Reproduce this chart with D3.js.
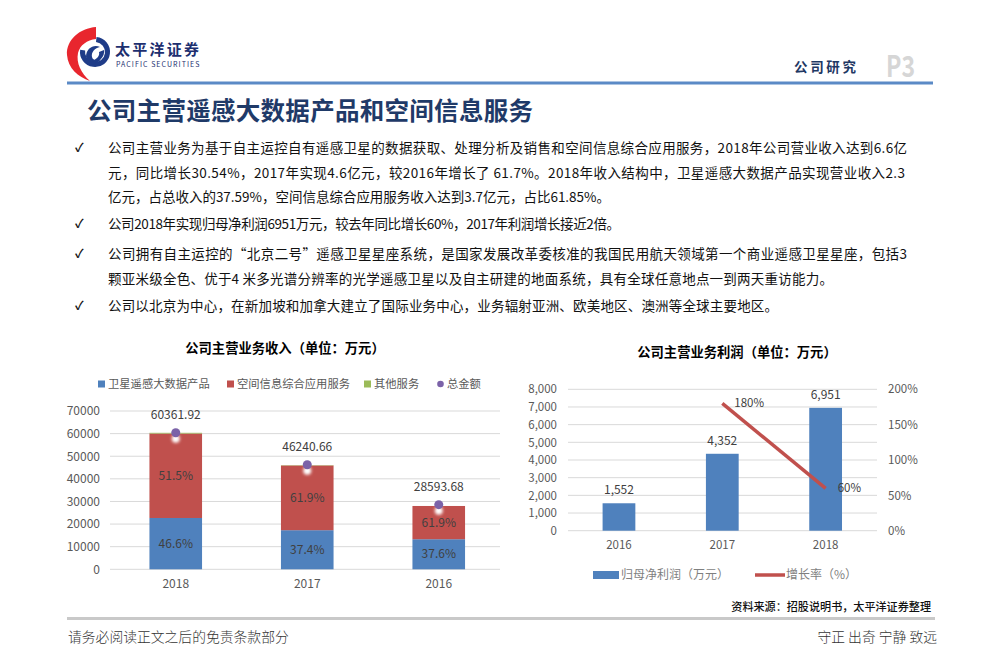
<!DOCTYPE html>
<html><head><meta charset="utf-8">
<script src="https://cdn.jsdelivr.net/npm/d3@7"></script>
<style>
body{margin:0;background:#fff}
svg{display:block}
text{font-family:"Noto Sans CJK SC","Noto Sans",sans-serif}
</style>
</head><body>
<svg id="c" width="1000" height="670"></svg>
<script>
// ---------- data ----------
const revYears = ["2018", "2017", "2016"];
const satRevenue = [22690, 17294, 13300];
const spaceRevenue = [37334, 28620, 14700];
const otherRevenue = [338, 150, 0];
const totalRevenue = [60361.92, 46240.66, 28593.68];
const satShareLabels = ["46.6%", "37.4%", "37.6%"];
const spaceShareLabels = ["51.5%", "61.9%", "61.9%"];
const revTicks = [0, 10000, 20000, 30000, 40000, 50000, 60000, 70000];
const revSeries = ["卫星遥感大数据产品", "空间信息综合应用服务", "其他服务", "总金额"];

const profitYears = ["2016", "2017", "2018"];
const netProfit = [1552, 4352, 6951];
const growthYears = ["2017", "2018"];
const growthRate = [1.80, 0.60];
const profitTicks = [0, 1000, 2000, 3000, 4000, 5000, 6000, 7000, 8000];
const rateTicks = [0, 0.5, 1, 1.5, 2];
const profitSeries = ["归母净利润（万元）", "增长率（%）"];

const bodyLines = [
  "公司主营业务为基于自主运控自有遥感卫星的数据获取、处理分析及销售和空间信息综合应用服务，2018年公司营业收入达到6.6亿",
  "元，同比增长30.54%，2017年实现4.6亿元，较2016年增长了 61.7%。2018年收入结构中，卫星遥感大数据产品实现营业收入2.3",
  "亿元，占总收入的37.59%，空间信息综合应用服务收入达到3.7亿元，占比61.85%。",
  "公司2018年实现归母净利润6951万元，较去年同比增长60%，2017年利润增长接近2倍。",
  "公司拥有自主运控的“北京二号”遥感卫星星座系统，是国家发展改革委核准的我国民用航天领域第一个商业遥感卫星星座，包括3",
  "颗亚米级全色、优于4 米多光谱分辨率的光学遥感卫星以及自主研建的地面系统，具有全球任意地点一到两天重访能力。",
  "公司以北京为中心，在新加坡和加拿大建立了国际业务中心，业务辐射亚洲、欧美地区、澳洲等全球主要地区。"
];
const bodyLineY = [148, 173, 197, 224, 254, 279, 306];
const bodyLineEnd = [907, 905, 610, 620, 907, 833, 778];
const bodyChecks = [0, 3, 4, 6];

const C = {blue:"#4f81bd", red:"#c0504d", green:"#9bbb59", purple:"#7b62a8", grid:"#d9d9d9", tick:"#595959", lab:"#404040"};

const svg = d3.select("#c");
const defs = svg.append("defs");
defs.append("filter").attr("id","glow").attr("x","-100%").attr("y","-100%").attr("width","300%").attr("height","300%")
  .append("feGaussianBlur").attr("stdDeviation", 1.6);

// ---------- header ----------
const logo = svg.append("g");
logo.append("path").attr("fill","#e8262e")
  .attr("d","M96,27 C80,28 66,40 67,55 C68,68 78,77 90,81 C81,73 76,63 78,53 C80,45 87,40 96,39 Z");
logo.append("path").attr("fill","#1f3c88")
  .attr("d", d3.arc().innerRadius(10).outerRadius(15).startAngle(0.1).endAngle(Math.PI*1.55)())
  .attr("transform","translate(95,52)");
logo.append("path").attr("fill","#1f3c88")
  .attr("d","M86,57 C86,48 94,44 100,47 C95,48 91,52 92,57 C93,61 98,61 101,58 C100,64 90,66 86,57 Z");
logo.append("path").attr("fill","#1f3c88")
  .attr("d","M104,50 C105,58 98,63 92,61 C97,59 100,56 99,52 Z");

svg.append("text").attr("x",115).attr("y",55).attr("font-size",15).attr("font-weight",700)
  .attr("fill","#1d2f6f").attr("textLength",84).text("太平洋证券");
svg.append("text").attr("x",116).attr("y",67).attr("font-size",7).attr("fill","#1d2f6f")
  .attr("font-family","Liberation Sans, Arial, sans-serif").attr("textLength",84).attr("letter-spacing",0.6)
  .text("PACIFIC SECURITIES");

svg.append("line").attr("x1",67).attr("x2",933).attr("y1",83).attr("y2",83)
  .attr("stroke","#5b8ac6").attr("stroke-width",3);
svg.append("text").attr("x",794).attr("y",72).attr("font-size",13.5).attr("font-weight",700)
  .attr("fill","#1f3864").attr("textLength",62).text("公司研究");
svg.append("text").attr("x",886).attr("y",77).attr("font-size",29).attr("font-weight",700)
  .attr("font-family","Liberation Sans, Arial, sans-serif").attr("fill","#d6d6d6")
  .attr("textLength",29).attr("lengthAdjust","spacingAndGlyphs").text("P3");

svg.append("text").attr("x",87).attr("y",120).attr("font-size",24.5).attr("font-weight",700)
  .attr("fill","#1f3a68").attr("textLength",446).text("公司主营遥感大数据产品和空间信息服务");

// ---------- body text ----------
const body = svg.append("g");
bodyLines.forEach((s,i)=>{
  body.append("text").attr("x",108).attr("y",bodyLineY[i]).attr("dy","0.35em")
    .attr("font-size",13.5).attr("fill","#111")
    .attr("textLength",bodyLineEnd[i]-108).attr("lengthAdjust","spacing").text(s);
});
bodyChecks.forEach(i=>{
  body.append("text").attr("x",75).attr("y",bodyLineY[i]).attr("dy","0.35em")
    .attr("font-size",12).attr("font-weight",700).attr("fill","#111").attr("font-family","DejaVu Sans").text("✓");
});

// ---------- left chart ----------
const L = svg.append("g");
L.append("text").attr("x",285).attr("y",348).attr("dy","0.35em").attr("text-anchor","middle")
  .attr("font-size",13.3).attr("font-weight",700).attr("fill","#000").text("公司主营业务收入（单位：万元）");

const xL = d3.scaleBand().domain(revYears).range([110,504.5]).paddingInner(0.6).paddingOuter(0.3);
const yL = d3.scaleLinear().domain([0,70000]).range([569.3,411]);

L.append("g").selectAll("line").data(revTicks).join("line")
  .attr("x1",110).attr("x2",500).attr("y1",d=>yL(d)).attr("y2",d=>yL(d))
  .attr("stroke",C.grid).attr("stroke-width",1);
const axL = L.append("g").attr("transform","translate(110,0)")
  .call(d3.axisLeft(yL).tickValues(revTicks).tickFormat(d3.format("d")).tickSize(0).tickPadding(10));
axL.select(".domain").remove();
axL.selectAll("text").attr("font-size",12).attr("fill",C.tick).attr("font-family","Noto Sans, sans-serif");
const axLx = L.append("g").attr("transform","translate(0,569.3)")
  .call(d3.axisBottom(xL).tickSize(0).tickPadding(10));
axLx.select(".domain").remove();
axLx.selectAll("text").attr("font-size",12).attr("fill",C.tick).attr("font-family","Noto Sans, sans-serif");

const stackRows = revYears.map((y,i)=>({year:y, sat:satRevenue[i], space:spaceRevenue[i], other:otherRevenue[i]}));
const stacked = d3.stack().keys(["sat","space","other"])(stackRows);
const colL = {sat:C.blue, space:C.red, other:C.green};
L.append("g").selectAll("g").data(stacked).join("g").attr("fill",d=>colL[d.key])
  .selectAll("rect").data(d=>d).join("rect")
  .attr("x",d=>xL(d.data.year)).attr("width",xL.bandwidth())
  .attr("y",d=>yL(d[1])).attr("height",d=>yL(d[0])-yL(d[1]));

// segment labels
const cx = y=>xL(y)+xL.bandwidth()/2;
L.append("g").selectAll("text").data(revYears).join("text")
  .attr("x",cx).attr("y",(d,i)=>(yL(0)+yL(satRevenue[i]))/2).attr("dy","0.35em")
  .attr("text-anchor","middle").attr("font-size",12).attr("fill",C.lab).attr("font-family","Noto Sans, sans-serif")
  .text((d,i)=>satShareLabels[i]);
L.append("g").selectAll("text").data(revYears).join("text")
  .attr("x",cx).attr("y",(d,i)=>(yL(satRevenue[i])+yL(satRevenue[i]+spaceRevenue[i]))/2).attr("dy","0.35em")
  .attr("text-anchor","middle").attr("font-size",12).attr("fill",C.lab).attr("font-family","Noto Sans, sans-serif")
  .text((d,i)=>spaceShareLabels[i]);

// total dots
L.append("g").selectAll("circle").data(revYears).join("circle")
  .attr("cx",cx).attr("cy",(d,i)=>yL(totalRevenue[i])+6).attr("r",4)
  .attr("fill","#fff").attr("filter","url(#glow)");
L.append("g").selectAll("circle").data(revYears).join("circle")
  .attr("cx",cx).attr("cy",(d,i)=>yL(totalRevenue[i])).attr("r",4.5).attr("fill",C.purple);
L.append("g").selectAll("text").data(revYears).join("text")
  .attr("x",cx).attr("y",(d,i)=>yL(totalRevenue[i])-18).attr("dy","0.35em")
  .attr("text-anchor","middle").attr("font-size",12).attr("fill",C.lab).attr("font-family","Noto Sans, sans-serif")
  .text((d,i)=>d3.format(".2f")(totalRevenue[i]));

// legend left
const legL = L.append("g");
const legLx = [98, 227, 364, 437];
const legLcol = [C.blue, C.red, C.green, C.purple];
revSeries.forEach((s,i)=>{
  if(i<3) legL.append("rect").attr("x",legLx[i]).attr("y",380.5).attr("width",7).attr("height",7).attr("fill",legLcol[i]);
  else legL.append("circle").attr("cx",legLx[i]+3.5).attr("cy",384).attr("r",3.3).attr("fill",legLcol[i]);
  legL.append("text").attr("x",legLx[i]+10).attr("y",384).attr("dy","0.35em")
    .attr("font-size",11.3).attr("fill",C.tick).text(s);
});

// ---------- right chart ----------
const R = svg.append("g");
R.append("text").attr("x",737).attr("y",352).attr("dy","0.35em").attr("text-anchor","middle")
  .attr("font-size",13.3).attr("font-weight",700).attr("fill","#000").text("公司主营业务利润（单位：万元）");

const xR = d3.scaleBand().domain(profitYears).range([567.3,877.3]).paddingInner(0.683).paddingOuter(0.3415);
const yR = d3.scaleLinear().domain([0,8000]).range([530.7,389.3]);
const yR2 = d3.scaleLinear().domain([0,2]).range([530.7,389.3]);

R.append("g").selectAll("line").data(profitTicks).join("line")
  .attr("x1",568).attr("x2",877).attr("y1",d=>yR(d)).attr("y2",d=>yR(d))
  .attr("stroke",C.grid).attr("stroke-width",1);
const axR = R.append("g").attr("transform","translate(568,0)")
  .call(d3.axisLeft(yR).tickValues(profitTicks).tickFormat(d3.format(",")).tickSize(0).tickPadding(11));
axR.select(".domain").remove();
axR.selectAll("text").attr("font-size",11.5).attr("fill",C.tick).attr("font-family","Noto Sans, sans-serif");
const axR2 = R.append("g").attr("transform","translate(877,0)")
  .call(d3.axisRight(yR2).tickValues(rateTicks).tickFormat(d3.format(".0%")).tickSize(0).tickPadding(11));
axR2.select(".domain").remove();
axR2.selectAll("text").attr("font-size",11.5).attr("fill",C.tick).attr("font-family","Noto Sans, sans-serif");
const axRx = R.append("g").attr("transform","translate(0,530.7)")
  .call(d3.axisBottom(xR).tickSize(0).tickPadding(10));
axRx.select(".domain").remove();
axRx.selectAll("text").attr("font-size",11.5).attr("fill",C.tick).attr("font-family","Noto Sans, sans-serif");

R.append("g").selectAll("rect").data(profitYears).join("rect")
  .attr("x",d=>xR(d)).attr("width",xR.bandwidth())
  .attr("y",(d,i)=>yR(netProfit[i])).attr("height",(d,i)=>yR(0)-yR(netProfit[i]))
  .attr("fill",C.blue);
const cxR = y=>xR(y)+xR.bandwidth()/2;
R.append("g").selectAll("text").data(profitYears).join("text")
  .attr("x",cxR).attr("y",(d,i)=>yR(netProfit[i])-13).attr("dy","0.35em")
  .attr("text-anchor","middle").attr("font-size",12).attr("fill",C.lab).attr("font-family","Noto Sans, sans-serif")
  .text((d,i)=>d3.format(",")(netProfit[i]));

const lineR = d3.line().x(d=>cxR(d.y)).y(d=>yR2(d.v));
const growthPts = growthYears.map((y,i)=>({y, v:growthRate[i]}));
R.append("path").datum(growthPts).attr("d",lineR).attr("fill","none")
  .attr("stroke",C.red).attr("stroke-width",3.5);
R.append("g").selectAll("text").data(growthPts).join("text")
  .attr("x",d=>cxR(d.y)+12).attr("y",d=>yR2(d.v)).attr("dy","0.35em")
  .attr("font-size",11.5).attr("fill",C.lab).attr("font-family","Noto Sans, sans-serif")
  .text(d=>d3.format(".0%")(d.v));

// legend right
const legR = R.append("g");
legR.append("rect").attr("x",593).attr("y",571).attr("width",26).attr("height",8).attr("fill",C.blue);
legR.append("text").attr("x",621).attr("y",575).attr("dy","0.35em").attr("font-size",12)
  .attr("fill","#7f7f7f").text(profitSeries[0]);
legR.append("line").attr("x1",755).attr("x2",785).attr("y1",575).attr("y2",575)
  .attr("stroke",C.red).attr("stroke-width",3.5);
legR.append("text").attr("x",786).attr("y",575).attr("dy","0.35em").attr("font-size",12)
  .attr("fill","#7f7f7f").text(profitSeries[1]);

// ---------- source & footer ----------
svg.append("text").attr("x",931).attr("y",607).attr("dy","0.35em").attr("text-anchor","end")
  .attr("font-size",11.1).attr("font-weight",500).attr("fill","#111").text("资料来源：招股说明书，太平洋证券整理");
svg.append("line").attr("x1",67).attr("x2",935).attr("y1",618.5).attr("y2",618.5)
  .attr("stroke","#c9c9c9").attr("stroke-width",3);
svg.append("text").attr("x",68).attr("y",637).attr("dy","0.35em").attr("font-size",13.8)
  .attr("font-weight",300).attr("fill","#333").text("请务必阅读正文之后的免责条款部分");
svg.append("text").attr("x",937).attr("y",637).attr("dy","0.35em").attr("text-anchor","end")
  .attr("font-size",13.8).attr("font-weight",300).attr("fill","#333").text("守正 出奇 宁静 致远");
</script>
</body></html>
